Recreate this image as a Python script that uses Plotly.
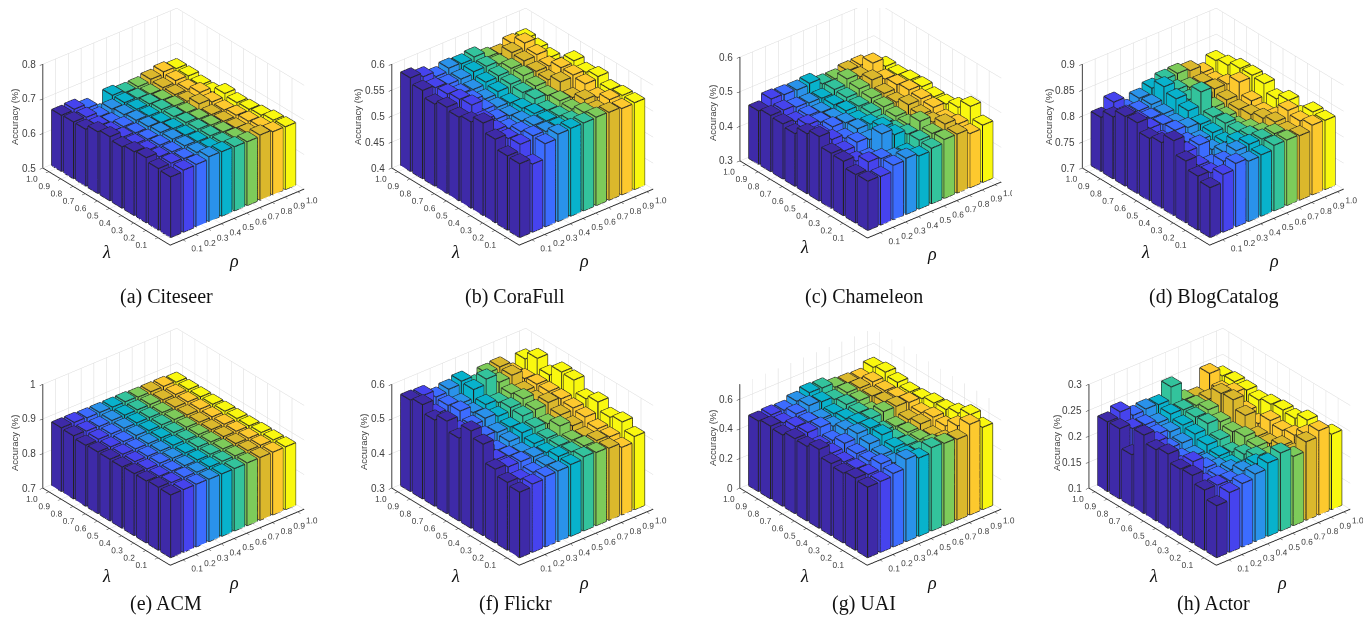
import plotly.graph_objects as go

PAGE_W, PAGE_H = 1371, 617
OFF = 8  # the page's body margin
W, H = PAGE_W - OFF, PAGE_H - OFF
rho = [0.1,0.2,0.3,0.4,0.5,0.6,0.7,0.8,0.9,1.0]
lam = [1.0,0.9,0.8,0.7,0.6,0.5,0.4,0.3,0.2,0.1]
tick_text = ["0.1","0.2","0.3","0.4","0.5","0.6","0.7","0.8","0.9","1.0"]
column_colors = ["#3e2aa8","#4643ee","#3c6cff","#2a92ea","#08b2cc","#33c39c","#7dcb5a","#dbb82c","#fdc92e","#f9f80f"]

citeseer = [
[.662,.664,.651,.620,.658,.651,.652,.658,.664,.658],
[.664,.662,.648,.655,.658,.655,.652,.655,.660,.658],
[.664,.658,.652,.660,.660,.660,.656,.656,.656,.653],
[.678,.662,.662,.665,.662,.665,.660,.658,.668,.653],
[.685,.668,.665,.668,.664,.666,.662,.672,.662,.671],
[.677,.670,.668,.672,.668,.670,.665,.662,.660,.666],
[.684,.672,.672,.674,.670,.672,.668,.664,.666,.668],
[.688,.675,.674,.676,.673,.674,.670,.666,.670,.672],
[.678,.678,.676,.678,.676,.676,.674,.672,.675,.679],
[.675,.679,.680,.687,.686,.685,.684,.688,.682,.681]]
corafull = [
[.580,.572,.562,.568,.566,.569,.558,.554,.564,.563],
[.570,.565,.561,.561,.565,.565,.559,.571,.579,.559],
[.558,.567,.557,.555,.559,.561,.565,.569,.571,.555],
[.566,.571,.559,.551,.555,.559,.565,.563,.563,.551],
[.561,.574,.555,.549,.547,.557,.559,.561,.574,.577],
[.566,.559,.551,.547,.551,.559,.555,.571,.574,.569],
[.578,.554,.547,.551,.555,.551,.559,.555,.571,.575],
[.561,.552,.555,.557,.555,.554,.557,.565,.559,.564],
[.543,.555,.561,.559,.557,.559,.565,.559,.569,.567],
[.542,.531,.560,.568,.569,.569,.570,.569,.566,.567]]
chameleon = [
[.454,.473,.470,.468,.472,.455,.454,.462,.463,.440],
[.462,.462,.455,.452,.450,.460,.475,.466,.490,.465],
[.459,.450,.452,.446,.452,.458,.468,.478,.465,.462],
[.452,.462,.454,.450,.456,.454,.462,.460,.470,.468],
[.473,.455,.462,.458,.450,.456,.458,.456,.476,.470],
[.486,.462,.450,.462,.460,.445,.452,.470,.472,.462],
[.459,.450,.460,.452,.472,.448,.450,.462,.468,.462],
[.457,.442,.436,.490,.472,.458,.480,.462,.455,.474],
[.440,.461,.455,.442,.440,.462,.466,.478,.462,.498],
[.442,.440,.457,.462,.453,.460,.470,.470,.456,.465]]
blogcatalog = [
[.804,.823,.799,.810,.819,.826,.827,.822,.808,.821],
[.819,.812,.810,.812,.836,.820,.814,.812,.805,.826],
[.834,.815,.810,.808,.827,.815,.812,.815,.814,.834],
[.836,.815,.812,.804,.818,.844,.804,.808,.832,.835],
[.820,.806,.815,.810,.806,.810,.800,.804,.810,.833],
[.826,.810,.806,.800,.804,.812,.796,.808,.802,.818],
[.844,.812,.815,.796,.800,.810,.805,.815,.807,.829],
[.819,.800,.792,.805,.815,.816,.812,.822,.834,.814],
[.804,.800,.812,.822,.824,.824,.824,.818,.828,.835],
[.796,.811,.822,.816,.818,.826,.826,.824,.834,.833]]
acm = [
[.884,.884,.882,.882,.882,.882,.880,.880,.880,.877],
[.882,.880,.878,.880,.880,.880,.880,.878,.878,.877],
[.876,.878,.878,.879,.879,.879,.878,.878,.878,.877],
[.878,.877,.877,.879,.878,.879,.879,.877,.878,.877],
[.878,.877,.877,.877,.878,.878,.878,.877,.877,.878],
[.877,.877,.877,.877,.878,.878,.878,.877,.877,.878],
[.879,.877,.878,.877,.877,.879,.878,.878,.878,.878],
[.879,.877,.877,.877,.878,.879,.879,.879,.879,.880],
[.882,.880,.880,.879,.879,.880,.880,.880,.880,.880],
[.881,.881,.881,.880,.880,.880,.881,.881,.881,.881]]
flickr = [
[.564,.562,.542,.549,.557,.531,.549,.552,.519,.544],
[.572,.529,.539,.529,.554,.569,.544,.549,.524,.567],
[.549,.529,.544,.524,.532,.522,.532,.524,.529,.540],
[.567,.524,.524,.529,.519,.529,.539,.519,.529,.570],
[.539,.522,.514,.509,.509,.526,.529,.534,.529,.568],
[.581,.514,.494,.504,.514,.514,.509,.519,.524,.535],
[.564,.504,.499,.494,.504,.504,.524,.509,.519,.547],
[.513,.504,.504,.502,.499,.504,.504,.499,.506,.524],
[.496,.489,.494,.499,.509,.507,.509,.509,.504,.532],
[.489,.497,.503,.504,.507,.514,.511,.508,.495,.511]]
uai = [
[.475,.480,.475,.500,.522,.518,.487,.480,.475,.513],
[.490,.475,.500,.520,.510,.490,.500,.495,.500,.530],
[.480,.500,.495,.480,.480,.505,.495,.490,.490,.510],
[.505,.510,.510,.480,.495,.500,.470,.500,.495,.495],
[.502,.470,.470,.505,.515,.510,.520,.520,.510,.500],
[.531,.470,.500,.530,.530,.475,.470,.480,.490,.520],
[.485,.460,.480,.510,.535,.470,.480,.500,.510,.525],
[.470,.465,.480,.485,.500,.480,.480,.470,.500,.550],
[.486,.475,.510,.480,.495,.485,.500,.490,.550,.590],
[.475,.477,.495,.554,.527,.561,.554,.545,.610,.554]]
actor = [
[.234,.243,.226,.228,.226,.250,.215,.210,.245,.230],
[.235,.225,.222,.215,.222,.220,.218,.220,.226,.233],
[.199,.212,.218,.212,.215,.220,.224,.245,.236,.231],
[.251,.228,.205,.205,.212,.222,.215,.247,.215,.226],
[.237,.215,.200,.195,.205,.205,.210,.231,.205,.232],
[.243,.210,.190,.195,.198,.195,.215,.205,.225,.235],
[.228,.232,.210,.200,.195,.205,.210,.205,.220,.233],
[.230,.205,.208,.210,.200,.215,.205,.215,.225,.244],
[.216,.215,.213,.222,.225,.215,.225,.215,.240,.235],
[.200,.215,.222,.230,.241,.250,.233,.251,.262,.245]]

panels = [
 ("(a) Citeseer", citeseer, [.5,.8], [.5,.6,.7,.8], ["0.5","0.6","0.7","0.8"], 173.5, 127, 8, 340),
 ("(b) CoraFull", corafull, [.4,.6], [.4,.45,.5,.55,.6], ["0.4","0.45","0.5","0.55","0.6"], 522.5, 127, 365, 680),
 ("(c) Chameleon", chameleon, [.3,.6], [.3,.4,.5,.6], ["0.3","0.4","0.5","0.6"], 870.5, 120, 715, 1012),
 ("(d) BlogCatalog", blogcatalog, [.7,.9], [.7,.75,.8,.85,.9], ["0.7","0.75","0.8","0.85","0.9"], 1213, 127, 1055, 1370),
 ("(e) ACM", acm, [.7,1.0], [.7,.8,.9,1.0], ["0.7","0.8","0.9","1"], 173.5, 447, 8, 340),
 ("(f) Flickr", flickr, [.3,.6], [.3,.4,.5,.6], ["0.3","0.4","0.5","0.6"], 522.5, 447, 368, 680),
 ("(g) UAI", uai, [0,.7], [0,.2,.4,.6], ["0","0.2","0.4","0.6"], 870.5, 447, 718, 1025),
 ("(h) Actor", actor, [.1,.3], [.1,.15,.2,.25,.3], ["0.1","0.15","0.2","0.25","0.3"], 1219.5, 447, 1062, 1370),
]
caption_xy = [(166,296),(515,296),(864,296),(1213,296),(166,603),(515,603),(864,603),(1213,603)]
lam_xy = [(106,252),(455,252),(804,247),(1145,252),(106,576),(455,576),(804,576),(1153,576)]
rho_xy = [(234,261),(584,261),(932,254),(1274,261),(234,583),(584,583),(932,583),(1282,583)]
ztitle_xy = [(14,117),(357,117),(712,113),(1048,117),(14,443),(363,442),(712,438),(1056,443)]

DIST = 1.5
SCALE = 0.985
ASPECT = dict(x=1.286*SCALE, y=1.471*SCALE, z=0.887*SCALE)
DIR = (-0.552, -0.664, 0.503)
RIGHT = (0.769, -0.639, 0.0)
S = 135.0
DOM_H = 275
half = 0.04
fig = go.Figure()
annotations = []
def pg(x, y):
    return (x-OFF)/W, 1-(y-OFF)/H
for k, (name, Z, zr, zt, ztt, cx, cy, left, right) in enumerate(panels):
    sid = "scene" if k == 0 else f"scene{k+1}"
    px, py, pz, fi, fj, fk, fc = [], [], [], [], [], [], []
    ex, ey, ez = [], [], []
    for r, row in enumerate(Z):
        for c, v in enumerate(row):
            x0, x1 = rho[c]-half, rho[c]+half
            y0, y1 = lam[r]-half, lam[r]+half
            z0, z1 = zr[0], v
            n = len(px)
            px += [x0,x1,x1,x0,x0,x1,x1,x0]
            py += [y0,y0,y1,y1,y0,y0,y1,y1]
            pz += [z0,z0,z0,z0,z1,z1,z1,z1]
            for a,b,d in [(4,5,6),(4,6,7),(0,1,5),(0,5,4),(1,2,6),(1,6,5),(2,3,7),(2,7,6),(3,0,4),(3,4,7)]:
                fi.append(n+a); fj.append(n+b); fk.append(n+d); fc.append(column_colors[c])
            for a,b in [(4,5),(5,6),(6,7),(7,4),(0,4),(1,5),(2,6),(3,7),(0,1),(1,2),(2,3),(3,0)]:
                ex += [px[n+a],px[n+b],None]; ey += [py[n+a],py[n+b],None]; ez += [pz[n+a],pz[n+b],None]
    fig.add_trace(go.Mesh3d(x=px,y=py,z=pz,i=fi,j=fj,k=fk,facecolor=fc,flatshading=True,scene=sid,
        lighting=dict(ambient=1,diffuse=0,specular=0,fresnel=0,roughness=1),hoverinfo="skip",showscale=False))
    fig.add_trace(go.Scatter3d(x=ex,y=ey,z=ez,mode="lines",line=dict(color="#222222",width=2.2),scene=sid,hoverinfo="skip",showlegend=False))
    top_page = 8 if k < 4 else 322
    shift_y = (top_page + DOM_H/2) - cy
    shift_x = cx - (left+right)/2
    cz = -shift_y/(S*SCALE*0.864)*SCALE
    ccx = -shift_x/S*RIGHT[0]
    ccy = -shift_x/S*RIGHT[1]
    dx0, dy1 = pg(left, top_page)
    dx1, dy0 = pg(right, top_page+DOM_H)
    axis = dict(showbackground=False, showgrid=True, gridcolor="#d9d9d9", gridwidth=1, zeroline=False,
                showline=True, linecolor="#262626", linewidth=2, ticks="outside", ticklen=4, tickcolor="#262626",
                tickangle=0,
                tickfont=dict(family="Liberation Sans", size=10, color="#404040"), showspikes=False)
    z_labels = [dict(x=0, y=1.05, z=min(t, zr[1]-1e-4), text=s, showarrow=False, xanchor="right", yanchor="middle", xshift=-5,
                     font=dict(family="Liberation Sans", size=10, color="#404040")) for t, s in zip(zt, ztt)]
    scene = dict(domain=dict(x=[max(dx0,0),min(dx1,1)],y=[max(dy0,0),min(dy1,1)]), aspectmode="manual", aspectratio=ASPECT,
        camera=dict(projection=dict(type="orthographic"), up=dict(x=0,y=0,z=1), center=dict(x=ccx,y=ccy,z=cz),
                    eye=dict(x=DIR[0]*DIST+ccx,y=DIR[1]*DIST+ccy,z=DIR[2]*DIST+cz)),
        xaxis=dict(axis, range=[0,1.05], tickvals=rho, ticktext=tick_text, title=dict(text="")),
        yaxis=dict(axis, range=[0,1.05], tickvals=rho, ticktext=tick_text, title=dict(text="")),
        zaxis=dict(axis, range=zr, tickvals=zt, ticktext=ztt, showticklabels=False, title=dict(text="")),
        annotations=z_labels)
    fig.update_layout({sid: scene})
    for text, (ax, ay), size, fam, col, ang in [(name, caption_xy[k], 20, "Liberation Serif", "#111", 0),
                                 ("<i>λ</i>", lam_xy[k], 18, "Liberation Serif", "#111", 0),
                                 ("<i>ρ</i>", rho_xy[k], 18, "Liberation Serif", "#111", 0),
                                 ("Accuracy (%)", ztitle_xy[k], 9.5, "Liberation Sans", "#404040", -90)]:
        xx, yy = pg(ax, ay)
        annotations.append(dict(x=xx,y=yy,xref="paper",yref="paper",text=text,showarrow=False,textangle=ang,
                                xanchor="center",yanchor="middle",
                                font=dict(family=fam,size=size,color=col)))

fig.update_layout(width=W,height=H,margin=dict(l=0,r=0,t=0,b=0),paper_bgcolor="white",showlegend=False,annotations=annotations)
fig.write_html("out.html")
